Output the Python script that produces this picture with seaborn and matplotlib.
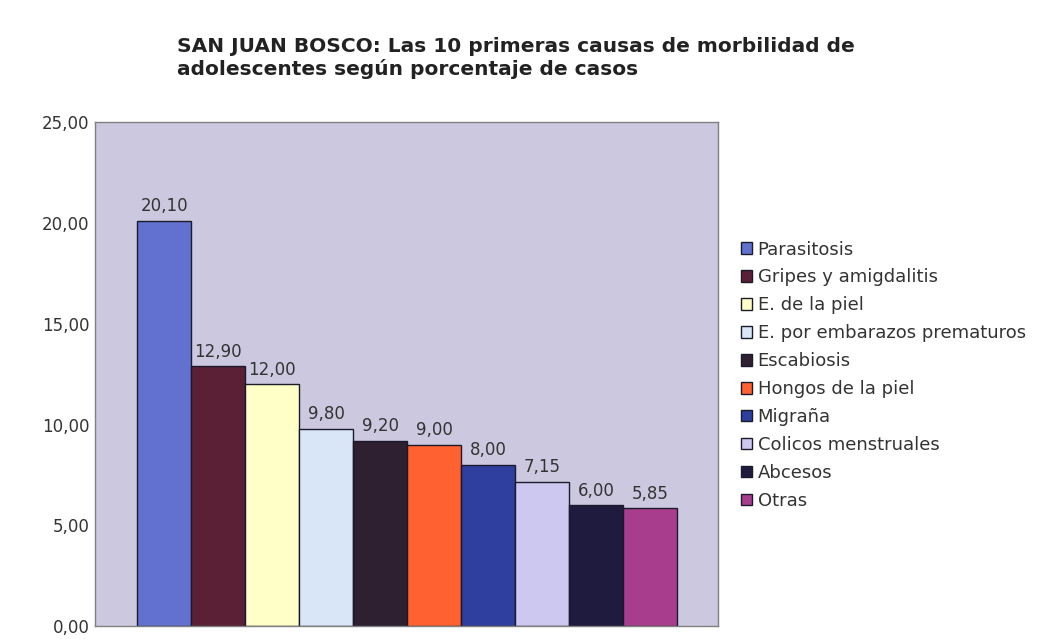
import numpy as np
import pandas as pd
import seaborn as sns
import matplotlib.pyplot as plt

causas = ["Parasitosis", "Gripes y amigdalitis", "E. de la piel",
          "E. por embarazos prematuros", "Escabiosis", "Hongos de la piel",
          "Migraña", "Colicos menstruales", "Abcesos", "Otras"]
porcentajes = [20.10, 12.90, 12.00, 9.80, 9.20, 9.00, 8.00, 7.15, 6.00, 5.85]
colores = ["#6270d0", "#5b2035", "#ffffc8", "#d8e6f8", "#2e2030",
           "#ff6230", "#2f3f9f", "#cdc8f0", "#1e1b3e", "#a83d8e"]
yticks = [0, 5, 10, 15, 20, 25]

data = pd.DataFrame({"causa": causas, "pct": porcentajes})

sns.set_style("white")
plt.rcParams["font.family"] = ["DejaVu Sans"]

fig = plt.figure(figsize=(10.46, 6.39), dpi=100)
ax = fig.add_axes([0.0908, 0.02, 0.596, 0.789])
ax.set_facecolor("#ccc8df")

sns.barplot(data=data, x="causa", y="pct", hue="causa", palette=colores,
            saturation=1, dodge=False, width=1.0, edgecolor="#1a1a2a",
            linewidth=1.0, legend=True, ax=ax)

for cont in ax.containers:
    ax.bar_label(cont, labels=[f"{v:.2f}".replace(".", ",") for v in cont.datavalues],
                 padding=4, fontsize=12, color="#333333")

ax.set_xlim(-1.28, 10.26)
ax.set_ylim(0, 25)
ax.set_yticks(yticks)
ax.set_yticklabels([f"{t:.2f}".replace(".", ",") for t in yticks], fontsize=12, color="#333333")
ax.tick_params(axis="y", length=0, pad=4)
ax.set_xticks([])
ax.set_xlabel("")
ax.set_ylabel("")
for s in ax.spines.values():
    s.set_color("#808080")
    s.set_linewidth(1.0)

sns.move_legend(ax, loc="upper left", bbox_to_anchor=(1.037, 0.765), borderaxespad=0,
                title=None, frameon=False, fontsize=13, labelspacing=0.55,
                handlelength=0.6, handleheight=0.6, handletextpad=0.3,
                labelcolor="#333333", borderpad=0)

fig.text(0.169, 0.909, "SAN JUAN BOSCO: Las 10 primeras causas de morbilidad de\nadolescentes según porcentaje de casos",
         fontsize=14.5, fontweight="bold", color="#222222", ha="left", va="center",
         linespacing=1.2)

fig.savefig("out.png", dpi=100)
